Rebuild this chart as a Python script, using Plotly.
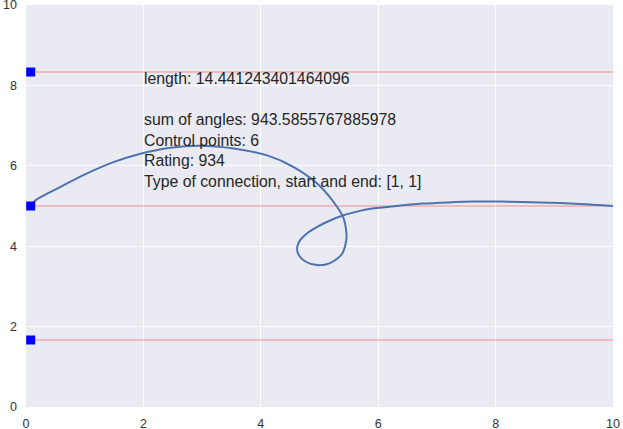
import plotly.graph_objects as go

# curve samples
curve_x = [0.08, 0.16, 0.58, 1.04, 1.49, 1.95, 2.46, 2.97, 3.54, 4.11, 4.56, 4.96, 5.24, 5.41, 5.46,
           5.38, 5.18, 4.96, 4.76, 4.64, 4.62, 4.67, 4.78, 4.96, 5.18, 5.41, 5.64, 5.87, 6.38, 6.77, 7.20, 7.63, 8.08, 8.76, 9.44, 10.0]
curve_y = [5.00, 5.14, 5.47, 5.81, 6.09, 6.30, 6.45, 6.50, 6.43, 6.26, 5.97, 5.56, 5.10, 4.70, 4.20,
           3.80, 3.58, 3.53, 3.62, 3.80, 3.98, 4.15, 4.31, 4.48, 4.64, 4.77, 4.86, 4.93, 5.01, 5.06, 5.09, 5.11, 5.11, 5.09, 5.05, 5.00]

level_y = [8.333, 5.0, 1.667]
marker_x = [0.08, 0.08, 0.08]
line_x = [0, 10]

tick_vals = [0, 2, 4, 6, 8, 10]
tick_text = ["0", "2", "4", "6", "8", "10"]

info_lines = [
    "length: 14.441243401464096",
    "",
    "sum of angles: 943.5855767885978",
    "Control points: 6",
    "Rating: 934",
    "Type of connection, start and end: [1, 1]",
]
text_pos = (2.0, 8.40)

fig = go.Figure()
for yv in level_y:
    fig.add_trace(go.Scatter(x=line_x, y=[yv, yv], mode="lines",
                             line=dict(color="rgba(255,0,0,0.4)", width=1),
                             hoverinfo="skip"))
fig.add_trace(go.Scatter(x=curve_x, y=curve_y, mode="lines",
                         line=dict(color="#4C72B0", width=2, shape="spline", smoothing=0.8)))
fig.add_trace(go.Scatter(x=marker_x, y=level_y, mode="markers",
                         marker=dict(symbol="square", size=9, color="#0000FF",
                                     line=dict(width=0))))

fig.add_annotation(x=text_pos[0], y=text_pos[1], xref="x", yref="y",
                   text="<br>".join(info_lines), showarrow=False,
                   xanchor="left", yanchor="top", align="left",
                   font=dict(family="Liberation Sans, Arial", size=15.8, color="#262626"),
                   borderpad=0)

axis_common = dict(range=[0, 10], tickvals=tick_vals, ticktext=tick_text,
                   showgrid=True, gridcolor="white", gridwidth=1.3,
                   zeroline=False, showline=False, ticks="", automargin=False,
                   ticklabeloverflow="allow",
                   tickfont=dict(family="Liberation Sans, Arial", size=12.5, color="#333333"))
fig.update_xaxes(**axis_common, ticklabelstandoff=7)
fig.update_yaxes(**axis_common, ticklabelstandoff=8)

fig.update_layout(width=623, height=429,
                  margin=dict(l=26, r=10, t=5, b=22),
                  plot_bgcolor="#EAEAF2", paper_bgcolor="white",
                  showlegend=False)

fig.write_html("out.html", config={"displayModeBar": False},
               post_script="document.body.style.margin='0';")
